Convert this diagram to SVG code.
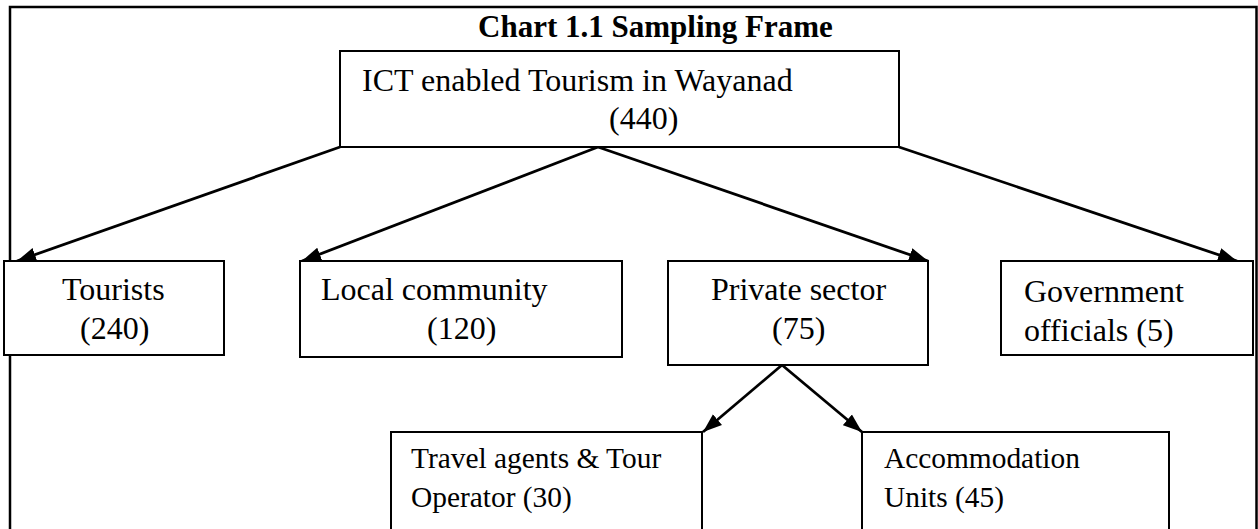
<svg xmlns="http://www.w3.org/2000/svg" width="1258" height="529" viewBox="0 0 1258 529">
<style>
.box{fill:#fff;stroke:#000;stroke-width:2}
.t{font-family:"Liberation Serif","Times New Roman",serif;font-size:32px;fill:#000}
.s{font-family:"Liberation Serif","Times New Roman",serif;font-size:29.4px;fill:#000}
.title{font-family:"Liberation Serif","Times New Roman",serif;font-size:31px;font-weight:bold;fill:#000}
.c{stroke:#000;stroke-width:2.8;fill:none;marker-end:url(#ah)}
</style>
<defs>
<marker id="ah" markerUnits="userSpaceOnUse" markerWidth="20" markerHeight="15" refX="19" refY="7.5" orient="auto">
<path d="M0,0.5 L19,7.5 L0,14.5 z" fill="#000"/>
</marker>
</defs>
<rect width="1258" height="529" fill="#fff"/>
<path id="frame" d="M10,540 V7 H1256.5 V540" fill="none" stroke="#000" stroke-width="2.5"/>
<text class="title" x="478" y="37">Chart 1.1 Sampling Frame</text>
<g id="connectors">
<line class="c" x1="340" y1="147" x2="17" y2="261"/>
<line class="c" x1="598" y1="147" x2="302" y2="261"/>
<line class="c" x1="598" y1="147" x2="928" y2="261"/>
<line class="c" x1="899" y1="147" x2="1237" y2="261"/>
<line class="c" x1="782" y1="365" x2="703" y2="432"/>
<line class="c" x1="782" y1="365" x2="862" y2="432"/>
</g>
<g id="root">
<rect class="box" x="340" y="51" width="559" height="96"/>
<text class="t" x="362" y="91">ICT enabled Tourism in Wayanad</text>
<text class="t" x="609" y="129">(440)</text>
</g>
<g id="tourists">
<rect class="box" x="4" y="261" width="220" height="94"/>
<text class="t" x="62" y="300">Tourists</text>
<text class="t" x="80" y="339">(240)</text>
</g>
<g id="local">
<rect class="box" x="300" y="261" width="322" height="96"/>
<text class="t" x="321" y="300">Local community</text>
<text class="t" x="427" y="339">(120)</text>
</g>
<g id="private">
<rect class="box" x="668" y="261" width="260" height="104"/>
<text class="t" x="711" y="300">Private sector</text>
<text class="t" x="772" y="339">(75)</text>
</g>
<g id="government">
<rect class="box" x="1001" y="261" width="252" height="94"/>
<text class="t" x="1024" y="302">Government</text>
<text class="t" x="1024" y="341">officials (5)</text>
</g>
<g id="travel">
<rect class="box" x="391" y="432" width="311" height="110"/>
<text class="s" x="411" y="468">Travel agents &amp; Tour</text>
<text class="s" x="411" y="507">Operator (30)</text>
</g>
<g id="accommodation">
<rect class="box" x="862" y="432" width="307" height="110"/>
<text class="s" x="884" y="468">Accommodation</text>
<text class="s" x="884" y="507">Units (45)</text>
</g>
</svg>
